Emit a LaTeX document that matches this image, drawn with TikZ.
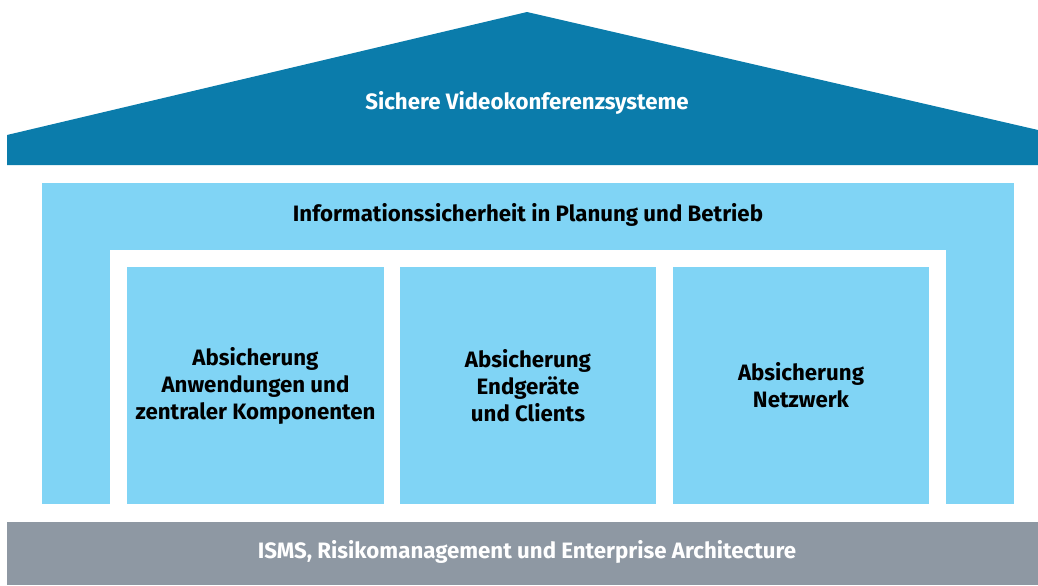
\documentclass[tikz,border=0pt]{standalone}
\usepackage{fontspec}
\setsansfont{Fira Sans}
\renewcommand{\familydefault}{\sfdefault}
\definecolor{roofblue}{RGB}{11,124,171}
\definecolor{lightblue}{RGB}{128,212,245}
\definecolor{basegray}{RGB}{142,152,163}
\tikzset{
  saeule/.style={fill=lightblue, minimum width=7.68cm, minimum height=7.11cm,
    inner sep=0pt, align=center, font=\bfseries\fontsize{19}{23}\selectfont},
  titel/.style={font=\bfseries\fontsize{19}{23}\selectfont}
}

\begin{document}
\begin{tikzpicture}[x=0.03cm,y=-0.03cm,line join=round]
    \useasboundingbox (0,0) rectangle (1038,585);

    % Dach
    \fill[roofblue] (7,165) -- (7,135) -- (527,12) -- (1038,130) -- (1038,165) -- cycle;
    \node[titel,text=white] (dach) at (527,103) {Sichere Videokonferenzsysteme};

    % Rahmen
    \fill[lightblue] (42,183) rectangle (1014,504);
    \fill[white] (110,250) rectangle (946,504);
    \node[titel] (betrieb) at (528,215) {Informationssicherheit in Planung und Betrieb};

    % Saeulen
    \node[saeule] (anwendungen) at (255.5,385.5) {Absicherung\\Anwendungen und\\zentraler Komponenten};
    \node[saeule] (endgeraete) at (528,385.5) {Absicherung\\Endgeräte\\und Clients};
    \node[saeule] (netzwerk) at (801,385.5) {Absicherung\\Netzwerk};

    % Fundament
    \fill[basegray] (7,522) rectangle (1038,585);
    \node[titel,text=white] (isms) at (527,552) {ISMS, Risikomanagement und Enterprise Architecture};
\end{tikzpicture}
\end{document}
